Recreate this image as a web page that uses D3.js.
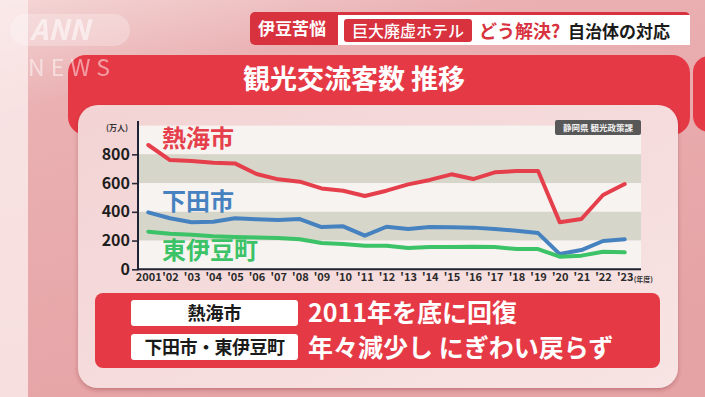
<!DOCTYPE html>
<html><head><meta charset="utf-8">
<script src="https://cdn.jsdelivr.net/npm/d3@7/dist/d3.min.js"></script>
<style>
html,body{margin:0;padding:0;overflow:hidden;background:#e9a9ac;}
svg{display:block;}
text{font-family:"Noto Sans CJK JP","Noto Sans",sans-serif;}
</style></head>
<body>
<svg id="c" width="705" height="397"></svg>
<script>
const years = [2001,2002,2003,2004,2005,2006,2007,2008,2009,2010,2011,2012,2013,2014,2015,2016,2017,2018,2019,2020,2021,2022,2023];
const yearLabels = ["2001","'02","'03","'04","'05","'06","'07","'08","'09","'10","'11","'12","'13","'14","'15","'16","'17","'18","'19","'20","'21","'22","'23"];
const atami = [865,760,753,742,737,663,626,610,563,547,510,547,591,622,661,628,675,684,684,327,350,517,593];
const shimoda = [396,355,327,331,355,348,343,350,294,299,234,296,280,294,292,290,280,269,252,106,134,197,209];
const higashiIzu = [262,248,241,230,225,222,218,209,183,176,164,164,148,155,155,157,155,141,141,88,95,122,118];
const yTicks = [0,200,400,600,800];
const bands = [[800,1000,"#f7f3f1"],[600,800,"#d7d6cb"],[400,600,"#f7f3f1"],[200,400,"#d7d6cb"],[0,200,"#f7f3f1"]];
const seriesNames = ["熱海市","下田市","東伊豆町"];
const seriesColors = ["#e63f4c","#4682bf","#3cc267"];

const svg = d3.select("#c");
const defs = svg.append("defs");
const bg = defs.append("linearGradient").attr("id","bg").attr("x1",0).attr("y1",0).attr("x2",0.4).attr("y2",1);
bg.append("stop").attr("offset","0").attr("stop-color","#f4d6d6");
bg.append("stop").attr("offset","0.25").attr("stop-color","#eab0b2");
bg.append("stop").attr("offset","1").attr("stop-color","#e6a3a6");
const pan = defs.append("linearGradient").attr("id","pan").attr("x1",0).attr("y1",0).attr("x2",1).attr("y2",1);
pan.append("stop").attr("offset","0").attr("stop-color","#f3d3d4");
pan.append("stop").attr("offset","1").attr("stop-color","#f8e4e4");
const sh = defs.append("filter").attr("id","sh").attr("x","-5%").attr("y","-5%").attr("width","110%").attr("height","115%");
sh.append("feDropShadow").attr("dx",0).attr("dy",2).attr("stdDeviation",2).attr("flood-color","#7a2a2e").attr("flood-opacity",0.35);

// background
svg.append("rect").attr("width",705).attr("height",397).attr("fill","url(#bg)");
svg.append("rect").attr("width",28).attr("height",397).attr("fill","#fbeeee").attr("opacity",0.8);

// header
svg.append("rect").attr("x",250).attr("y",12).attr("width",440).attr("height",33).attr("rx",5).attr("fill","#d8323f");
svg.append("text").attr("x",292).attr("y",35).attr("text-anchor","middle").attr("font-size",17).attr("font-weight",700).attr("fill","#fff").text("伊豆苦悩");
svg.append("rect").attr("x",338).attr("y",15).attr("width",352).attr("height",30).attr("fill","#ffffff");
svg.append("rect").attr("x",344).attr("y",19).attr("width",128).attr("height",23).attr("rx",3).attr("fill","#d8323f");
svg.append("text").attr("x",408).attr("y",37).attr("text-anchor","middle").attr("font-size",16).attr("font-weight",500).attr("fill","#fff").text("巨大廃虚ホテル");
svg.append("text").attr("x",479).attr("y",38).attr("font-size",18).attr("font-weight",700).attr("fill","#d8323f").text("どう解決?");
svg.append("text").attr("x",568).attr("y",38).attr("font-size",17).attr("font-weight",700).attr("fill","#1a1a1a").text("自治体の対応");

// cards
svg.append("rect").attr("x",693).attr("y",56).attr("width",40).attr("height",76).attr("rx",16).attr("fill","#e53a46");
svg.append("rect").attr("x",68).attr("y",55).attr("width",622).attr("height",80).attr("rx",18).attr("fill","#e53a46");
svg.append("text").attr("x",354).attr("y",89).attr("text-anchor","middle").attr("font-size",27).attr("font-weight",700).attr("fill","#ffffff").text("観光交流客数 推移");
svg.append("rect").attr("x",78).attr("y",105).attr("width",600).attr("height",283).attr("rx",20).attr("fill","url(#pan)").attr("filter","url(#sh)");

// ANN NEWS logo (on top, translucent)
svg.append("rect").attr("x",10).attr("y",14).attr("width",120).attr("height",32).attr("rx",16).attr("fill","#ffffff").attr("opacity",0.25);
svg.append("text").attr("x",30).attr("y",40).attr("font-size",28).attr("font-weight",700).attr("font-style","italic")
  .attr("font-family","Liberation Sans, sans-serif").attr("fill","#ffffff").attr("opacity",0.55).text("ANN");
svg.append("text").attr("x",28).attr("y",76).attr("font-size",23).attr("font-weight",400)
  .attr("font-family","Liberation Sans, sans-serif").attr("letter-spacing",6).attr("fill","#ffffff").attr("opacity",0.5).text("NEWS");

// chart
const x = d3.scaleLinear().domain([2001,2023]).range([148.3,624.7]);
const y = d3.scaleLinear().domain([0,1000]).range([269.3,125.6]);
const plotL = 138, plotR = 641;

svg.append("g").selectAll("rect").data(bands).join("rect")
  .attr("x",plotL).attr("width",plotR-plotL)
  .attr("y",d=>y(d[1])).attr("height",d=>y(d[0])-y(d[1])).attr("fill",d=>d[2]);

// source box
svg.append("rect").attr("x",555).attr("y",120).attr("width",86).attr("height",15).attr("rx",2).attr("fill","#585858");
svg.append("text").attr("x",598).attr("y",131).attr("text-anchor","middle").attr("font-size",8.5).attr("font-weight",700).attr("fill","#f0f0f0").text("静岡県 観光政策課");

// y axis
const ya = svg.append("g").attr("transform",`translate(${plotL},0)`)
  .call(d3.axisLeft(y).tickValues(yTicks).tickSize(6).tickPadding(2).tickFormat(d3.format("d")));
ya.select(".domain").remove();
ya.selectAll(".tick line").attr("stroke","#2a2a3a").attr("stroke-width",1.6);
ya.selectAll(".tick text").attr("font-size",16).attr("font-weight",700).attr("fill","#1e1e1e")
  .attr("font-family","Liberation Sans, Arial, sans-serif");
svg.append("line").attr("x1",plotL).attr("x2",plotL).attr("y1",121).attr("y2",y(0)+1).attr("stroke","#1f2333").attr("stroke-width",2);
svg.append("text").attr("x",117).attr("y",131).attr("text-anchor","middle").attr("font-size",8).attr("font-weight",700).attr("fill","#333").text("(万人)");

// x axis
const xa = svg.append("g").attr("transform",`translate(0,${y(0)})`)
  .call(d3.axisBottom(x).tickValues(years).tickSize(0).tickPadding(4).tickFormat((d,i)=>yearLabels[i]));
xa.select(".domain").remove();
xa.selectAll(".tick text").attr("font-size",11).attr("font-weight",700).attr("fill","#2a2a2a")
  .attr("font-family","Liberation Sans Narrow, Liberation Sans, Arial, sans-serif");
svg.append("line").attr("x1",plotL).attr("x2",plotR).attr("y1",y(0)).attr("y2",y(0)).attr("stroke","#1f2333").attr("stroke-width",2);
svg.append("text").attr("x",x(2023)+9).attr("y",y(0)+13).attr("font-size",7).attr("font-weight",700).attr("fill","#333").text("(年度)");

// lines
const line = d3.line().x((d,i)=>x(years[i])).y(d=>y(d));
[atami,shimoda,higashiIzu].forEach((s,k)=>{
  svg.append("path").datum(s).attr("d",line).attr("fill","none")
    .attr("stroke",seriesColors[k]).attr("stroke-width",4).attr("stroke-linejoin","round").attr("stroke-linecap","round");
});

// series labels
const labPos = [[162,147],[162,210],[162,259]];
seriesNames.forEach((n,k)=>{
  svg.append("text").attr("x",labPos[k][0]).attr("y",labPos[k][1]).attr("font-size",24).attr("font-weight",700)
    .attr("fill",seriesColors[k]).text(n);
});

// bottom summary
svg.append("rect").attr("x",95).attr("y",293).attr("width",565).attr("height",75).attr("rx",8).attr("fill","#e53a46");
svg.append("rect").attr("x",131).attr("y",300).attr("width",167).attr("height",26).attr("rx",3).attr("fill","#ffffff");
svg.append("rect").attr("x",131).attr("y",334).attr("width",167).attr("height",26).attr("rx",3).attr("fill","#ffffff");
svg.append("text").attr("x",214.5).attr("y",319.5).attr("text-anchor","middle").attr("font-size",18).attr("font-weight",700).attr("fill","#1a1a1a").text("熱海市");
svg.append("text").attr("x",214.5).attr("y",353.5).attr("text-anchor","middle").attr("font-size",18).attr("font-weight",700).attr("letter-spacing",-0.5).attr("fill","#1a1a1a").text("下田市・東伊豆町");
svg.append("text").attr("x",308).attr("y",322).attr("font-size",25).attr("font-weight",700).attr("fill","#ffffff").text("2011年を底に回復");
svg.append("text").attr("x",308).attr("y",357).attr("font-size",25).attr("font-weight",700).attr("fill","#ffffff").text("年々減少し にぎわい戻らず");
</script>
</body></html>
